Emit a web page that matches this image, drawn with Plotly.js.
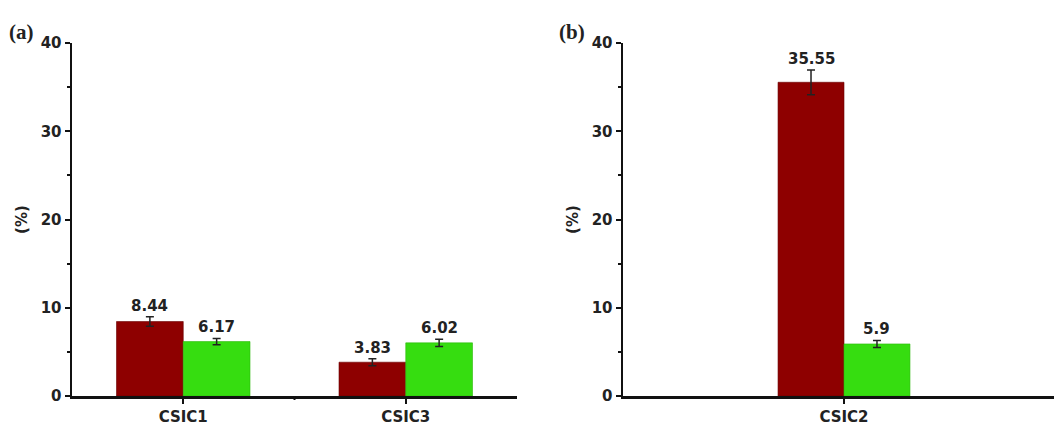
<!DOCTYPE html>
<html>
<head>
<meta charset="utf-8">
<script src="https://cdn.plot.ly/plotly-3.0.1.min.js"></script>
<style>html,body{margin:0;padding:0;background:#fff;}#chart{width:1054px;height:426px;}</style>
</head>
<body>
<div id="chart"></div>
<script>
// Panel (a)
const catsA = ['CSIC1', 'CSIC3'];
const redA = [8.44, 3.83];
const redErrA = [0.55, 0.4];
const greenA = [6.17, 6.02];
const greenErrA = [0.35, 0.4];
// Panel (b)
const catsB = ['CSIC2'];
const redB = [35.55];
const redErrB = [1.4];
const greenB = [5.9];
const greenErrB = [0.4];
const yTicks = [0, 10, 20, 30, 40];

const RED = '#8e0000', GREEN = '#36dd10';
const errStyle = arr => ({type: 'data', array: arr, visible: true, color: '#222', thickness: 1.5, width: 4});

const traces = [
  {type: 'bar', x: catsA, y: redA, error_y: errStyle(redErrA), marker: {color: RED, line: {color: '#6a0000', width: 0.6}}, xaxis: 'x', yaxis: 'y', hoverinfo: 'skip'},
  {type: 'bar', x: catsA, y: greenA, error_y: errStyle(greenErrA), marker: {color: GREEN, line: {color: '#2cb80c', width: 0.6}}, xaxis: 'x', yaxis: 'y', hoverinfo: 'skip'},
  {type: 'bar', x: catsB, y: redB, error_y: errStyle(redErrB), marker: {color: RED, line: {color: '#6a0000', width: 0.6}}, xaxis: 'x2', yaxis: 'y2', hoverinfo: 'skip'},
  {type: 'bar', x: catsB, y: greenB, error_y: errStyle(greenErrB), marker: {color: GREEN, line: {color: '#2cb80c', width: 0.6}}, xaxis: 'x2', yaxis: 'y2', hoverinfo: 'skip'}
];

const bw = 0.3; // each bar width in category units (bargap 0.4, 2 bars)
const FAM = 'DejaVu Sans, Liberation Sans, Arial, sans-serif';
const lblFont = {family: FAM, size: 15, color: '#222', weight: 'bold'};
const annotations = [];
function addLabels(cats, vals, errs, side, xref, yref) {
  cats.forEach((c, i) => {
    annotations.push({
      x: i + side * bw / 2, y: vals[i] + errs[i], xref: xref, yref: yref,
      text: String(vals[i]), showarrow: false, yanchor: 'bottom', xanchor: 'center',
      font: lblFont, yshift: 0
    });
  });
}
addLabels(catsA, redA, redErrA, -1, 'x', 'y');
addLabels(catsA, greenA, greenErrA, 1, 'x', 'y');
addLabels(catsB, redB, redErrB, -1, 'x2', 'y2');
addLabels(catsB, greenB, greenErrB, 1, 'x2', 'y2');

const panelFont = {family: 'Liberation Serif, Times New Roman, serif', size: 21, color: '#222', weight: 'bold'};
annotations.push({xref: 'paper', yref: 'paper', x: 7/1054, y: 1 - 32/426, text: '(a)', showarrow: false, xanchor: 'left', yanchor: 'middle', font: panelFont});
annotations.push({xref: 'paper', yref: 'paper', x: 557/1054, y: 1 - 32/426, text: '(b)', showarrow: false, xanchor: 'left', yanchor: 'middle', font: panelFont});

const tickFont = {family: FAM, size: 15, color: '#222', weight: 'bold'};
const yDom = [(426 - 396) / 426, (426 - 43) / 426];
function yAxis(anchor) {
  return {
    domain: yDom, anchor: anchor, range: [0, 40], tickvals: yTicks, ticktext: yTicks.map(String),
    showgrid: false, zeroline: false, showline: true, linecolor: '#111', linewidth: 2.5,
    ticks: 'outside', ticklen: 5, tickwidth: 2, tickcolor: '#111', tickfont: tickFont,
    minor: {dtick: 5, ticks: 'outside', ticklen: 2.5, tickwidth: 2, tickcolor: '#111', showgrid: false},
    title: {text: '(%)', font: tickFont, standoff: 10},
    fixedrange: true
  };
}
function xAxis(anchor, dom, range, cats) {
  return {
    domain: dom, anchor: anchor, type: 'category', categoryorder: 'array', categoryarray: cats, range: range,
    showgrid: false, zeroline: false, showline: true, linecolor: '#111', linewidth: 2.5,
    ticks: 'outside', ticklen: 5, tickwidth: 2, tickcolor: '#111', tickfont: tickFont,
    fixedrange: true
  };
}

const layout = {
  width: 1054, height: 426,
  margin: {l: 0, r: 0, t: 0, b: 0},
  paper_bgcolor: '#fff', plot_bgcolor: '#fff',
  showlegend: false,
  barmode: 'group', bargap: 0.4, bargroupgap: 0,
  xaxis: xAxis('y', [72 / 1054, 517 / 1054], [-0.5, catsA.length - 0.5], catsA),
  yaxis: yAxis('x'),
  xaxis2: xAxis('y2', [623 / 1054, 1], [-1.005, 0.955], catsB),
  yaxis2: yAxis('x2'),
  annotations: annotations,
  shapes: [
    {type: 'line', xref: 'x', yref: 'paper', x0: 0.5, x1: 0.5, y0: yDom[0], y1: yDom[0] - 4 / 426, line: {color: '#111', width: 2}}
  ]
};

Plotly.newPlot('chart', traces, layout, {displayModeBar: false, staticPlot: true});
</script>
</body>
</html>
